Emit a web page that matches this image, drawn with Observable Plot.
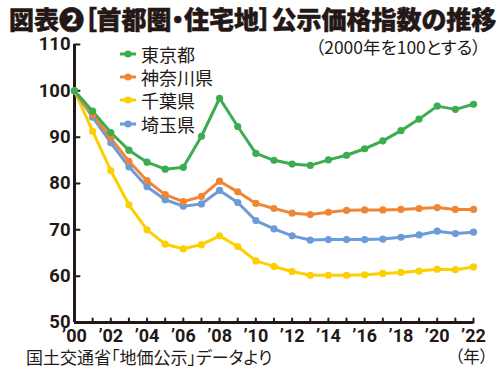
<!DOCTYPE html>
<html><head><meta charset="utf-8">
<script src="https://cdn.jsdelivr.net/npm/d3@7"></script>
<script src="https://cdn.jsdelivr.net/npm/@observablehq/plot@0.6"></script>
<style>
body{margin:0;background:#fff;}
#wrap{position:relative;width:500px;height:375px;overflow:hidden;font-family:"Noto Sans CJK JP",sans-serif;color:#231815;font-feature-settings:"palt";}
#title{position:absolute;left:9px;top:6px;font-size:25px;font-weight:900;line-height:1;white-space:nowrap;-webkit-text-stroke:0.5px #231815;}
#sub{position:absolute;right:19px;top:38px;font-size:17.5px;line-height:1;white-space:nowrap}
#legend{position:absolute;left:119px;top:42px;}
.row{display:flex;align-items:center;height:23.3px;font-size:18px;line-height:1;white-space:nowrap}
.row svg{margin-right:4px}
#cap{position:absolute;left:26px;top:348px;font-size:17px;line-height:1;white-space:nowrap}
#nen{position:absolute;left:455px;top:348px;font-size:16.5px;line-height:1;white-space:nowrap}
#chart{position:absolute;left:0;top:0}
</style></head><body>
<div id="wrap">
<div id="chart"></div>
<div id="title"></div>
<div id="sub"></div>
<div id="legend"></div>
<div id="cap"></div>
<div id="nen"></div>
</div>
<script>
const titleText = "図表❷［首都圏・住宅地］公示価格指数の推移";
const subtitleText = "（2000年を100とする）";
const captionText = "国土交通省「地価公示」データより";
const unitText = "（年）";

const years = [2000,2001,2002,2003,2004,2005,2006,2007,2008,2009,2010,2011,2012,2013,2014,2015,2016,2017,2018,2019,2020,2021,2022];
const seriesNames = ["東京都","神奈川県","千葉県","埼玉県"];
const seriesColors = ["#3cac4f","#ef8636","#fcd000","#6b9bd8"];
const tokyo    = [100,95.6,91.0,87.2,84.6,83.1,83.5,90.2,98.4,92.3,86.5,85.0,84.2,83.9,85.1,86.1,87.5,89.2,91.4,93.9,96.7,96.0,97.1];
const kanagawa = [100,94.8,89.8,84.8,80.6,77.6,76.1,77.2,80.5,78.2,75.7,74.6,73.6,73.3,73.8,74.2,74.3,74.3,74.4,74.6,74.8,74.4,74.4];
const chiba    = [100,91.3,82.8,75.4,70.0,66.9,65.9,66.8,68.7,66.4,63.3,62.1,61.0,60.2,60.2,60.2,60.3,60.6,60.8,61.1,61.5,61.4,62.0];
const saitama  = [100,94.3,88.8,83.6,79.3,76.5,75.1,75.6,78.5,75.9,72.0,70.2,68.7,67.8,67.9,67.9,67.9,68.0,68.4,68.9,69.7,69.2,69.5];
const yTicks = [50,60,70,80,90,100,110];
const xLabelYears = [2000,2002,2004,2006,2008,2010,2012,2014,2016,2018,2020,2022];

const seriesValues = [tokyo, kanagawa, chiba, saitama];
const drawOrder = [2,3,1,0];
const table = [];
for (const i of drawOrder) {
  seriesValues[i].forEach((v, j) => table.push({year: years[j], value: v, name: seriesNames[i]}));
}

const ink = "#231815";
const tickShape = {draw(ctx, l){ ctx.moveTo(0,0); ctx.lineTo(0,-l); }};

const chart = Plot.plot({
  width: 500, height: 375,
  marginLeft: 74, marginRight: 27, marginTop: 44, marginBottom: 53,
  x: {domain: [years[0], years[years.length-1]], label: null},
  y: {domain: [yTicks[0], yTicks[yTicks.length-1]], label: null},
  style: {fontFamily: "Roboto, sans-serif", color: ink, background: "transparent"},
  marks: [
    Plot.axisY({ticks: yTicks, tickSize: 0, tickPadding: 4, fontSize: 18.5, fontWeight: 700, label: null, tickFormat: d => String(d)}),
    Plot.axisX({ticks: xLabelYears, tickSize: 0, tickPadding: 7, fontSize: 18, fontWeight: 700, label: null,
      tickFormat: d => "’" + String(d % 100).padStart(2, "0")}),
    Plot.vector(yTicks.slice(1), {x: () => years[0], y: d => d, length: 5, rotate: 90, anchor: "start", shape: tickShape, stroke: ink, strokeWidth: 2}),
    Plot.vector(years.slice(1), {x: d => d, y: () => yTicks[0], length: 4, rotate: 0, anchor: "start", shape: tickShape, stroke: ink, strokeWidth: 2}),
    Plot.ruleX([years[0]], {y1: yTicks[0], y2: yTicks[yTicks.length-1], stroke: ink, strokeWidth: 3}),
    Plot.ruleY([yTicks[0]], {x1: years[0], x2: years[years.length-1], stroke: ink, strokeWidth: 3}),
    ...drawOrder.map(i => Plot.line(table.filter(d => d.name === seriesNames[i]), {x: "year", y: "value", stroke: seriesColors[i], strokeWidth: 3})),
    ...drawOrder.map(i => Plot.dot(table.filter(d => d.name === seriesNames[i]), {x: "year", y: "value", fill: seriesColors[i], r: 3.6}))
  ]
});
document.getElementById("chart").append(chart);
document.getElementById("title").textContent = titleText;
document.getElementById("sub").textContent = subtitleText;
document.getElementById("cap").textContent = captionText;
document.getElementById("nen").textContent = unitText;
const legend = document.getElementById("legend");
seriesNames.forEach((n, i) => {
  const row = document.createElement("div");
  row.className = "row";
  row.innerHTML = `<svg width="18" height="10"><line x1="1" x2="17" y1="5" y2="5" stroke="${seriesColors[i]}" stroke-width="3"/><circle cx="9" cy="5" r="3.6" fill="${seriesColors[i]}"/></svg><span></span>`;
  row.querySelector("span").textContent = n;
  legend.append(row);
});
</script>
</body></html>
